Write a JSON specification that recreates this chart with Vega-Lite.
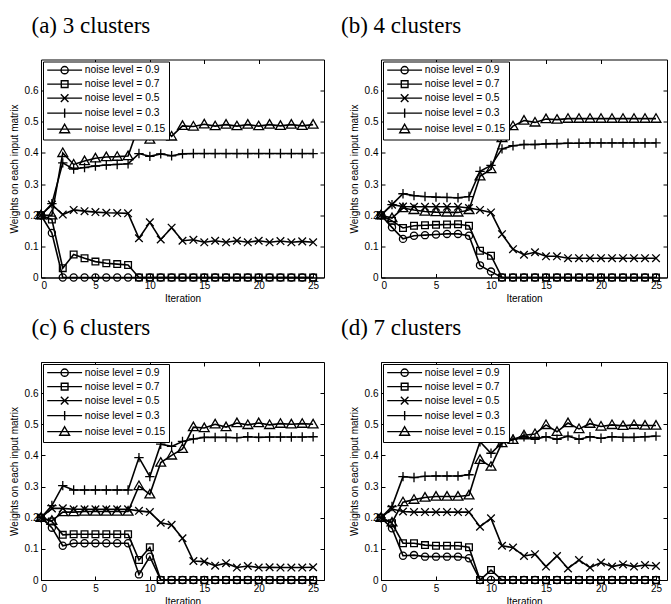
{
"$schema": "https://vega.github.io/schema/vega-lite/v6.json",
"padding": {"left": 8, "top": 13.5, "right": 0, "bottom": 0},
"datasets": {
"a": [
{"n":"0.9","i":0,"w":0.2},{"n":"0.9","i":1,"w":0.143},{"n":"0.9","i":2,"w":0},{"n":"0.9","i":3,"w":0},{"n":"0.9","i":4,"w":0},{"n":"0.9","i":5,"w":0},{"n":"0.9","i":6,"w":0},{"n":"0.9","i":7,"w":0},{"n":"0.9","i":8,"w":0},{"n":"0.9","i":9,"w":0},{"n":"0.9","i":10,"w":0},{"n":"0.9","i":11,"w":0},{"n":"0.9","i":12,"w":0},{"n":"0.9","i":13,"w":0},{"n":"0.9","i":14,"w":0},{"n":"0.9","i":15,"w":0},{"n":"0.9","i":16,"w":0},{"n":"0.9","i":17,"w":0},{"n":"0.9","i":18,"w":0},{"n":"0.9","i":19,"w":0},{"n":"0.9","i":20,"w":0},{"n":"0.9","i":21,"w":0},{"n":"0.9","i":22,"w":0},{"n":"0.9","i":23,"w":0},{"n":"0.9","i":24,"w":0},{"n":"0.9","i":25,"w":0},
{"n":"0.7","i":0,"w":0.2},{"n":"0.7","i":1,"w":0.186},{"n":"0.7","i":2,"w":0.03},{"n":"0.7","i":3,"w":0.074},{"n":"0.7","i":4,"w":0.062},{"n":"0.7","i":5,"w":0.051},{"n":"0.7","i":6,"w":0.046},{"n":"0.7","i":7,"w":0.043},{"n":"0.7","i":8,"w":0.04},{"n":"0.7","i":9,"w":0},{"n":"0.7","i":10,"w":0},{"n":"0.7","i":11,"w":0},{"n":"0.7","i":12,"w":0},{"n":"0.7","i":13,"w":0},{"n":"0.7","i":14,"w":0},{"n":"0.7","i":15,"w":0},{"n":"0.7","i":16,"w":0},{"n":"0.7","i":17,"w":0},{"n":"0.7","i":18,"w":0},{"n":"0.7","i":19,"w":0},{"n":"0.7","i":20,"w":0},{"n":"0.7","i":21,"w":0},{"n":"0.7","i":22,"w":0},{"n":"0.7","i":23,"w":0},{"n":"0.7","i":24,"w":0},{"n":"0.7","i":25,"w":0},
{"n":"0.5","i":0,"w":0.2},{"n":"0.5","i":1,"w":0.234},{"n":"0.5","i":2,"w":0.202},{"n":"0.5","i":3,"w":0.217},{"n":"0.5","i":4,"w":0.213},{"n":"0.5","i":5,"w":0.21},{"n":"0.5","i":6,"w":0.208},{"n":"0.5","i":7,"w":0.207},{"n":"0.5","i":8,"w":0.206},{"n":"0.5","i":9,"w":0.126},{"n":"0.5","i":10,"w":0.177},{"n":"0.5","i":11,"w":0.122},{"n":"0.5","i":12,"w":0.16},{"n":"0.5","i":13,"w":0.118},{"n":"0.5","i":14,"w":0.121},{"n":"0.5","i":15,"w":0.113},{"n":"0.5","i":16,"w":0.118},{"n":"0.5","i":17,"w":0.113},{"n":"0.5","i":18,"w":0.118},{"n":"0.5","i":19,"w":0.113},{"n":"0.5","i":20,"w":0.118},{"n":"0.5","i":21,"w":0.113},{"n":"0.5","i":22,"w":0.117},{"n":"0.5","i":23,"w":0.113},{"n":"0.5","i":24,"w":0.116},{"n":"0.5","i":25,"w":0.113},
{"n":"0.3","i":0,"w":0.2},{"n":"0.3","i":1,"w":0.237},{"n":"0.3","i":2,"w":0.368},{"n":"0.3","i":3,"w":0.348},{"n":"0.3","i":4,"w":0.353},{"n":"0.3","i":5,"w":0.358},{"n":"0.3","i":6,"w":0.361},{"n":"0.3","i":7,"w":0.363},{"n":"0.3","i":8,"w":0.365},{"n":"0.3","i":9,"w":0.398},{"n":"0.3","i":10,"w":0.389},{"n":"0.3","i":11,"w":0.397},{"n":"0.3","i":12,"w":0.391},{"n":"0.3","i":13,"w":0.397},{"n":"0.3","i":14,"w":0.398},{"n":"0.3","i":15,"w":0.398},{"n":"0.3","i":16,"w":0.398},{"n":"0.3","i":17,"w":0.398},{"n":"0.3","i":18,"w":0.398},{"n":"0.3","i":19,"w":0.398},{"n":"0.3","i":20,"w":0.398},{"n":"0.3","i":21,"w":0.398},{"n":"0.3","i":22,"w":0.398},{"n":"0.3","i":23,"w":0.398},{"n":"0.3","i":24,"w":0.398},{"n":"0.3","i":25,"w":0.398},
{"n":"0.15","i":0,"w":0.2},{"n":"0.15","i":1,"w":0.2},{"n":"0.15","i":2,"w":0.4},{"n":"0.15","i":3,"w":0.363},{"n":"0.15","i":4,"w":0.374},{"n":"0.15","i":5,"w":0.383},{"n":"0.15","i":6,"w":0.387},{"n":"0.15","i":7,"w":0.388},{"n":"0.15","i":8,"w":0.39},{"n":"0.15","i":9,"w":0.49},{"n":"0.15","i":10,"w":0.443},{"n":"0.15","i":11,"w":0.49},{"n":"0.15","i":12,"w":0.453},{"n":"0.15","i":13,"w":0.487},{"n":"0.15","i":14,"w":0.485},{"n":"0.15","i":15,"w":0.492},{"n":"0.15","i":16,"w":0.486},{"n":"0.15","i":17,"w":0.491},{"n":"0.15","i":18,"w":0.486},{"n":"0.15","i":19,"w":0.491},{"n":"0.15","i":20,"w":0.486},{"n":"0.15","i":21,"w":0.491},{"n":"0.15","i":22,"w":0.487},{"n":"0.15","i":23,"w":0.491},{"n":"0.15","i":24,"w":0.487},{"n":"0.15","i":25,"w":0.491}
],
"b": [
{"n":"0.9","i":0,"w":0.2},{"n":"0.9","i":1,"w":0.161},{"n":"0.9","i":2,"w":0.124},{"n":"0.9","i":3,"w":0.134},{"n":"0.9","i":4,"w":0.136},{"n":"0.9","i":5,"w":0.138},{"n":"0.9","i":6,"w":0.14},{"n":"0.9","i":7,"w":0.14},{"n":"0.9","i":8,"w":0.134},{"n":"0.9","i":9,"w":0.039},{"n":"0.9","i":10,"w":0.019},{"n":"0.9","i":11,"w":0},{"n":"0.9","i":12,"w":0},{"n":"0.9","i":13,"w":0},{"n":"0.9","i":14,"w":0},{"n":"0.9","i":15,"w":0},{"n":"0.9","i":16,"w":0},{"n":"0.9","i":17,"w":0},{"n":"0.9","i":18,"w":0},{"n":"0.9","i":19,"w":0},{"n":"0.9","i":20,"w":0},{"n":"0.9","i":21,"w":0},{"n":"0.9","i":22,"w":0},{"n":"0.9","i":23,"w":0},{"n":"0.9","i":24,"w":0},{"n":"0.9","i":25,"w":0},
{"n":"0.7","i":0,"w":0.2},{"n":"0.7","i":1,"w":0.182},{"n":"0.7","i":2,"w":0.159},{"n":"0.7","i":3,"w":0.166},{"n":"0.7","i":4,"w":0.168},{"n":"0.7","i":5,"w":0.169},{"n":"0.7","i":6,"w":0.17},{"n":"0.7","i":7,"w":0.171},{"n":"0.7","i":8,"w":0.166},{"n":"0.7","i":9,"w":0.086},{"n":"0.7","i":10,"w":0.07},{"n":"0.7","i":11,"w":0},{"n":"0.7","i":12,"w":0},{"n":"0.7","i":13,"w":0},{"n":"0.7","i":14,"w":0},{"n":"0.7","i":15,"w":0},{"n":"0.7","i":16,"w":0},{"n":"0.7","i":17,"w":0},{"n":"0.7","i":18,"w":0},{"n":"0.7","i":19,"w":0},{"n":"0.7","i":20,"w":0},{"n":"0.7","i":21,"w":0},{"n":"0.7","i":22,"w":0},{"n":"0.7","i":23,"w":0},{"n":"0.7","i":24,"w":0},{"n":"0.7","i":25,"w":0},
{"n":"0.5","i":0,"w":0.2},{"n":"0.5","i":1,"w":0.234},{"n":"0.5","i":2,"w":0.228},{"n":"0.5","i":3,"w":0.227},{"n":"0.5","i":4,"w":0.227},{"n":"0.5","i":5,"w":0.227},{"n":"0.5","i":6,"w":0.227},{"n":"0.5","i":7,"w":0.227},{"n":"0.5","i":8,"w":0.223},{"n":"0.5","i":9,"w":0.217},{"n":"0.5","i":10,"w":0.209},{"n":"0.5","i":11,"w":0.139},{"n":"0.5","i":12,"w":0.091},{"n":"0.5","i":13,"w":0.073},{"n":"0.5","i":14,"w":0.081},{"n":"0.5","i":15,"w":0.068},{"n":"0.5","i":16,"w":0.068},{"n":"0.5","i":17,"w":0.062},{"n":"0.5","i":18,"w":0.062},{"n":"0.5","i":19,"w":0.062},{"n":"0.5","i":20,"w":0.062},{"n":"0.5","i":21,"w":0.062},{"n":"0.5","i":22,"w":0.062},{"n":"0.5","i":23,"w":0.062},{"n":"0.5","i":24,"w":0.062},{"n":"0.5","i":25,"w":0.062},
{"n":"0.3","i":0,"w":0.2},{"n":"0.3","i":1,"w":0.234},{"n":"0.3","i":2,"w":0.269},{"n":"0.3","i":3,"w":0.263},{"n":"0.3","i":4,"w":0.26},{"n":"0.3","i":5,"w":0.258},{"n":"0.3","i":6,"w":0.257},{"n":"0.3","i":7,"w":0.256},{"n":"0.3","i":8,"w":0.26},{"n":"0.3","i":9,"w":0.341},{"n":"0.3","i":10,"w":0.36},{"n":"0.3","i":11,"w":0.413},{"n":"0.3","i":12,"w":0.423},{"n":"0.3","i":13,"w":0.427},{"n":"0.3","i":14,"w":0.427},{"n":"0.3","i":15,"w":0.429},{"n":"0.3","i":16,"w":0.43},{"n":"0.3","i":17,"w":0.431},{"n":"0.3","i":18,"w":0.431},{"n":"0.3","i":19,"w":0.432},{"n":"0.3","i":20,"w":0.432},{"n":"0.3","i":21,"w":0.432},{"n":"0.3","i":22,"w":0.432},{"n":"0.3","i":23,"w":0.432},{"n":"0.3","i":24,"w":0.432},{"n":"0.3","i":25,"w":0.432},
{"n":"0.15","i":0,"w":0.2},{"n":"0.15","i":1,"w":0.191},{"n":"0.15","i":2,"w":0.223},{"n":"0.15","i":3,"w":0.217},{"n":"0.15","i":4,"w":0.212},{"n":"0.15","i":5,"w":0.21},{"n":"0.15","i":6,"w":0.209},{"n":"0.15","i":7,"w":0.209},{"n":"0.15","i":8,"w":0.217},{"n":"0.15","i":9,"w":0.325},{"n":"0.15","i":10,"w":0.348},{"n":"0.15","i":11,"w":0.448},{"n":"0.15","i":12,"w":0.486},{"n":"0.15","i":13,"w":0.504},{"n":"0.15","i":14,"w":0.498},{"n":"0.15","i":15,"w":0.509},{"n":"0.15","i":16,"w":0.507},{"n":"0.15","i":17,"w":0.51},{"n":"0.15","i":18,"w":0.51},{"n":"0.15","i":19,"w":0.51},{"n":"0.15","i":20,"w":0.51},{"n":"0.15","i":21,"w":0.51},{"n":"0.15","i":22,"w":0.51},{"n":"0.15","i":23,"w":0.51},{"n":"0.15","i":24,"w":0.51},{"n":"0.15","i":25,"w":0.51}
],
"c": [
{"n":"0.9","i":0,"w":0.2},{"n":"0.9","i":1,"w":0.168},{"n":"0.9","i":2,"w":0.11},{"n":"0.9","i":3,"w":0.118},{"n":"0.9","i":4,"w":0.118},{"n":"0.9","i":5,"w":0.118},{"n":"0.9","i":6,"w":0.118},{"n":"0.9","i":7,"w":0.118},{"n":"0.9","i":8,"w":0.118},{"n":"0.9","i":9,"w":0.018},{"n":"0.9","i":10,"w":0.075},{"n":"0.9","i":11,"w":0},{"n":"0.9","i":12,"w":0},{"n":"0.9","i":13,"w":0},{"n":"0.9","i":14,"w":0},{"n":"0.9","i":15,"w":0},{"n":"0.9","i":16,"w":0},{"n":"0.9","i":17,"w":0},{"n":"0.9","i":18,"w":0},{"n":"0.9","i":19,"w":0},{"n":"0.9","i":20,"w":0},{"n":"0.9","i":21,"w":0},{"n":"0.9","i":22,"w":0},{"n":"0.9","i":23,"w":0},{"n":"0.9","i":24,"w":0},{"n":"0.9","i":25,"w":0},
{"n":"0.7","i":0,"w":0.2},{"n":"0.7","i":1,"w":0.188},{"n":"0.7","i":2,"w":0.145},{"n":"0.7","i":3,"w":0.147},{"n":"0.7","i":4,"w":0.147},{"n":"0.7","i":5,"w":0.147},{"n":"0.7","i":6,"w":0.147},{"n":"0.7","i":7,"w":0.147},{"n":"0.7","i":8,"w":0.147},{"n":"0.7","i":9,"w":0.064},{"n":"0.7","i":10,"w":0.105},{"n":"0.7","i":11,"w":0},{"n":"0.7","i":12,"w":0},{"n":"0.7","i":13,"w":0},{"n":"0.7","i":14,"w":0},{"n":"0.7","i":15,"w":0},{"n":"0.7","i":16,"w":0},{"n":"0.7","i":17,"w":0},{"n":"0.7","i":18,"w":0},{"n":"0.7","i":19,"w":0},{"n":"0.7","i":20,"w":0},{"n":"0.7","i":21,"w":0},{"n":"0.7","i":22,"w":0},{"n":"0.7","i":23,"w":0},{"n":"0.7","i":24,"w":0},{"n":"0.7","i":25,"w":0},
{"n":"0.5","i":0,"w":0.2},{"n":"0.5","i":1,"w":0.23},{"n":"0.5","i":2,"w":0.23},{"n":"0.5","i":3,"w":0.227},{"n":"0.5","i":4,"w":0.227},{"n":"0.5","i":5,"w":0.227},{"n":"0.5","i":6,"w":0.227},{"n":"0.5","i":7,"w":0.227},{"n":"0.5","i":8,"w":0.227},{"n":"0.5","i":9,"w":0.222},{"n":"0.5","i":10,"w":0.218},{"n":"0.5","i":11,"w":0.184},{"n":"0.5","i":12,"w":0.177},{"n":"0.5","i":13,"w":0.134},{"n":"0.5","i":14,"w":0.061},{"n":"0.5","i":15,"w":0.059},{"n":"0.5","i":16,"w":0.046},{"n":"0.5","i":17,"w":0.054},{"n":"0.5","i":18,"w":0.04},{"n":"0.5","i":19,"w":0.045},{"n":"0.5","i":20,"w":0.04},{"n":"0.5","i":21,"w":0.041},{"n":"0.5","i":22,"w":0.04},{"n":"0.5","i":23,"w":0.04},{"n":"0.5","i":24,"w":0.04},{"n":"0.5","i":25,"w":0.041},
{"n":"0.3","i":0,"w":0.2},{"n":"0.3","i":1,"w":0.239},{"n":"0.3","i":2,"w":0.303},{"n":"0.3","i":3,"w":0.289},{"n":"0.3","i":4,"w":0.289},{"n":"0.3","i":5,"w":0.289},{"n":"0.3","i":6,"w":0.289},{"n":"0.3","i":7,"w":0.289},{"n":"0.3","i":8,"w":0.289},{"n":"0.3","i":9,"w":0.393},{"n":"0.3","i":10,"w":0.332},{"n":"0.3","i":11,"w":0.436},{"n":"0.3","i":12,"w":0.429},{"n":"0.3","i":13,"w":0.445},{"n":"0.3","i":14,"w":0.453},{"n":"0.3","i":15,"w":0.458},{"n":"0.3","i":16,"w":0.458},{"n":"0.3","i":17,"w":0.458},{"n":"0.3","i":18,"w":0.457},{"n":"0.3","i":19,"w":0.46},{"n":"0.3","i":20,"w":0.458},{"n":"0.3","i":21,"w":0.459},{"n":"0.3","i":22,"w":0.459},{"n":"0.3","i":23,"w":0.459},{"n":"0.3","i":24,"w":0.459},{"n":"0.3","i":25,"w":0.46},
{"n":"0.15","i":0,"w":0.2},{"n":"0.15","i":1,"w":0.19},{"n":"0.15","i":2,"w":0.218},{"n":"0.15","i":3,"w":0.218},{"n":"0.15","i":4,"w":0.22},{"n":"0.15","i":5,"w":0.22},{"n":"0.15","i":6,"w":0.22},{"n":"0.15","i":7,"w":0.22},{"n":"0.15","i":8,"w":0.22},{"n":"0.15","i":9,"w":0.302},{"n":"0.15","i":10,"w":0.275},{"n":"0.15","i":11,"w":0.377},{"n":"0.15","i":12,"w":0.4},{"n":"0.15","i":13,"w":0.421},{"n":"0.15","i":14,"w":0.491},{"n":"0.15","i":15,"w":0.488},{"n":"0.15","i":16,"w":0.5},{"n":"0.15","i":17,"w":0.491},{"n":"0.15","i":18,"w":0.504},{"n":"0.15","i":19,"w":0.498},{"n":"0.15","i":20,"w":0.504},{"n":"0.15","i":21,"w":0.498},{"n":"0.15","i":22,"w":0.502},{"n":"0.15","i":23,"w":0.5},{"n":"0.15","i":24,"w":0.502},{"n":"0.15","i":25,"w":0.5}
],
"d": [
{"n":"0.9","i":0,"w":0.2},{"n":"0.9","i":1,"w":0.166},{"n":"0.9","i":2,"w":0.078},{"n":"0.9","i":3,"w":0.08},{"n":"0.9","i":4,"w":0.075},{"n":"0.9","i":5,"w":0.075},{"n":"0.9","i":6,"w":0.075},{"n":"0.9","i":7,"w":0.075},{"n":"0.9","i":8,"w":0.07},{"n":"0.9","i":9,"w":0},{"n":"0.9","i":10,"w":0},{"n":"0.9","i":11,"w":0},{"n":"0.9","i":12,"w":0},{"n":"0.9","i":13,"w":0},{"n":"0.9","i":14,"w":0},{"n":"0.9","i":15,"w":0},{"n":"0.9","i":16,"w":0},{"n":"0.9","i":17,"w":0},{"n":"0.9","i":18,"w":0},{"n":"0.9","i":19,"w":0},{"n":"0.9","i":20,"w":0},{"n":"0.9","i":21,"w":0},{"n":"0.9","i":22,"w":0},{"n":"0.9","i":23,"w":0},{"n":"0.9","i":24,"w":0},{"n":"0.9","i":25,"w":0},
{"n":"0.7","i":0,"w":0.2},{"n":"0.7","i":1,"w":0.182},{"n":"0.7","i":2,"w":0.118},{"n":"0.7","i":3,"w":0.118},{"n":"0.7","i":4,"w":0.112},{"n":"0.7","i":5,"w":0.11},{"n":"0.7","i":6,"w":0.11},{"n":"0.7","i":7,"w":0.11},{"n":"0.7","i":8,"w":0.105},{"n":"0.7","i":9,"w":0},{"n":"0.7","i":10,"w":0.032},{"n":"0.7","i":11,"w":0},{"n":"0.7","i":12,"w":0},{"n":"0.7","i":13,"w":0},{"n":"0.7","i":14,"w":0},{"n":"0.7","i":15,"w":0},{"n":"0.7","i":16,"w":0},{"n":"0.7","i":17,"w":0},{"n":"0.7","i":18,"w":0},{"n":"0.7","i":19,"w":0},{"n":"0.7","i":20,"w":0},{"n":"0.7","i":21,"w":0},{"n":"0.7","i":22,"w":0},{"n":"0.7","i":23,"w":0},{"n":"0.7","i":24,"w":0},{"n":"0.7","i":25,"w":0},
{"n":"0.5","i":0,"w":0.2},{"n":"0.5","i":1,"w":0.228},{"n":"0.5","i":2,"w":0.22},{"n":"0.5","i":3,"w":0.218},{"n":"0.5","i":4,"w":0.218},{"n":"0.5","i":5,"w":0.218},{"n":"0.5","i":6,"w":0.218},{"n":"0.5","i":7,"w":0.218},{"n":"0.5","i":8,"w":0.218},{"n":"0.5","i":9,"w":0.171},{"n":"0.5","i":10,"w":0.198},{"n":"0.5","i":11,"w":0.11},{"n":"0.5","i":12,"w":0.104},{"n":"0.5","i":13,"w":0.077},{"n":"0.5","i":14,"w":0.083},{"n":"0.5","i":15,"w":0.043},{"n":"0.5","i":16,"w":0.077},{"n":"0.5","i":17,"w":0.037},{"n":"0.5","i":18,"w":0.064},{"n":"0.5","i":19,"w":0.04},{"n":"0.5","i":20,"w":0.056},{"n":"0.5","i":21,"w":0.043},{"n":"0.5","i":22,"w":0.05},{"n":"0.5","i":23,"w":0.043},{"n":"0.5","i":24,"w":0.048},{"n":"0.5","i":25,"w":0.045},
{"n":"0.3","i":0,"w":0.2},{"n":"0.3","i":1,"w":0.236},{"n":"0.3","i":2,"w":0.332},{"n":"0.3","i":3,"w":0.329},{"n":"0.3","i":4,"w":0.333},{"n":"0.3","i":5,"w":0.334},{"n":"0.3","i":6,"w":0.334},{"n":"0.3","i":7,"w":0.334},{"n":"0.3","i":8,"w":0.338},{"n":"0.3","i":9,"w":0.444},{"n":"0.3","i":10,"w":0.407},{"n":"0.3","i":11,"w":0.441},{"n":"0.3","i":12,"w":0.452},{"n":"0.3","i":13,"w":0.46},{"n":"0.3","i":14,"w":0.452},{"n":"0.3","i":15,"w":0.46},{"n":"0.3","i":16,"w":0.452},{"n":"0.3","i":17,"w":0.462},{"n":"0.3","i":18,"w":0.452},{"n":"0.3","i":19,"w":0.46},{"n":"0.3","i":20,"w":0.455},{"n":"0.3","i":21,"w":0.46},{"n":"0.3","i":22,"w":0.458},{"n":"0.3","i":23,"w":0.458},{"n":"0.3","i":24,"w":0.46},{"n":"0.3","i":25,"w":0.462},
{"n":"0.15","i":0,"w":0.2},{"n":"0.15","i":1,"w":0.185},{"n":"0.15","i":2,"w":0.25},{"n":"0.15","i":3,"w":0.258},{"n":"0.15","i":4,"w":0.265},{"n":"0.15","i":5,"w":0.268},{"n":"0.15","i":6,"w":0.268},{"n":"0.15","i":7,"w":0.268},{"n":"0.15","i":8,"w":0.272},{"n":"0.15","i":9,"w":0.386},{"n":"0.15","i":10,"w":0.364},{"n":"0.15","i":11,"w":0.44},{"n":"0.15","i":12,"w":0.45},{"n":"0.15","i":13,"w":0.465},{"n":"0.15","i":14,"w":0.469},{"n":"0.15","i":15,"w":0.498},{"n":"0.15","i":16,"w":0.476},{"n":"0.15","i":17,"w":0.504},{"n":"0.15","i":18,"w":0.485},{"n":"0.15","i":19,"w":0.502},{"n":"0.15","i":20,"w":0.493},{"n":"0.15","i":21,"w":0.498},{"n":"0.15","i":22,"w":0.495},{"n":"0.15","i":23,"w":0.498},{"n":"0.15","i":24,"w":0.496},{"n":"0.15","i":25,"w":0.496}
]
},
"spacing": 11.5,
"resolve": {"scale": {"shape": "independent"}, "legend": {"shape": "independent"}},
"vconcat": [
{"hconcat": [
{"title": {"text": "(a) 3 clusters", "dx": -9.5}, "width": 283, "height": 218, "data": {"name": "a"},
"layer": [
{"mark": {"type": "line", "color": "black", "strokeWidth": 1.6},
"encoding": {"x": {"field": "i", "type": "quantitative", "scale": {"domain": [0, 25]}, "axis": {"values": [0, 5, 10, 15, 20, 25], "title": "Iteration"}},
"y": {"field": "w", "type": "quantitative", "scale": {"domain": [0, 0.7]}, "axis": {"values": [0, 0.1, 0.2, 0.3, 0.4, 0.5, 0.6], "format": "~g", "title": "Weights on each input matrix"}},
"detail": {"field": "n", "type": "nominal"}}},
{"mark": {"type": "point", "filled": false, "stroke": "black", "strokeWidth": 1.3, "size": 20, "opacity": 1},
"encoding": {"x": {"field": "i", "type": "quantitative", "axis": {"orient": "top", "values": [5, 10, 15, 20], "labels": false, "title": null, "domain": false}},
"y": {"field": "w", "type": "quantitative", "axis": {"orient": "right", "values": [0.1, 0.2, 0.3, 0.4, 0.5, 0.6], "labels": false, "title": null, "domain": false}},
"shape": {"field": "n", "type": "nominal", "scale": {"domain": ["0.9", "0.7", "0.5", "0.3", "0.15"], "range": ["M1.6,0A1.6,1.6,0,1,1,-1.6,0A1.6,1.6,0,1,1,1.6,0", "M-1.5,-1.5H1.5V1.5H-1.5Z", "M-1.7,-1.7L1.7,1.7M-1.7,1.7L1.7,-1.7", "M-2.1,0H2.1M0,-2.1V2.1", "M0,-2.2L2.2,1.6H-2.2Z"]}, "legend": null}}},
{"transform": [{"filter": "datum.i < 0"}],
"mark": {"type": "point", "filled": false, "stroke": "black", "strokeWidth": 1.4, "size": 20, "opacity": 1},
"encoding": {"shape": {"field": "n", "type": "nominal", "scale": {"domain": ["0.9", "0.7", "0.5", "0.3", "0.15"], "range": ["M-7.8,0H7.8M1.6,0A1.6,1.6,0,1,1,-1.6,0A1.6,1.6,0,1,1,1.6,0", "M-7.8,0H7.8M-1.5,-1.5H1.5V1.5H-1.5Z", "M-7.8,0H7.8M-1.7,-1.7L1.7,1.7M-1.7,1.7L1.7,-1.7", "M-7.8,0H7.8M0,-2.1V2.1", "M-7.8,0H7.8M0,-2.2L2.2,1.6H-2.2Z"]}, "legend": {"labelExpr": "'noise level = ' + datum.label"}}}}
],
"resolve": {"axis": {"x": "independent", "y": "independent"}, "scale": {"shape": "independent"}}},
{"title": {"text": "(b) 4 clusters", "dx": -40}, "width": 286, "height": 218, "data": {"name": "b"},
"layer": [
{"mark": {"type": "line", "color": "black", "strokeWidth": 1.6},
"encoding": {"x": {"field": "i", "type": "quantitative", "scale": {"domain": [0, 25]}, "axis": {"values": [0, 5, 10, 15, 20, 25], "title": "Iteration"}},
"y": {"field": "w", "type": "quantitative", "scale": {"domain": [0, 0.7]}, "axis": {"values": [0, 0.1, 0.2, 0.3, 0.4, 0.5, 0.6], "format": "~g", "title": "Weights on each input matrix"}},
"detail": {"field": "n", "type": "nominal"}}},
{"mark": {"type": "point", "filled": false, "stroke": "black", "strokeWidth": 1.3, "size": 20, "opacity": 1},
"encoding": {"x": {"field": "i", "type": "quantitative", "axis": {"orient": "top", "values": [5, 10, 15, 20], "labels": false, "title": null, "domain": false}},
"y": {"field": "w", "type": "quantitative", "axis": {"orient": "right", "values": [0.1, 0.2, 0.3, 0.4, 0.5, 0.6], "labels": false, "title": null, "domain": false}},
"shape": {"field": "n", "type": "nominal", "scale": {"domain": ["0.9", "0.7", "0.5", "0.3", "0.15"], "range": ["M1.6,0A1.6,1.6,0,1,1,-1.6,0A1.6,1.6,0,1,1,1.6,0", "M-1.5,-1.5H1.5V1.5H-1.5Z", "M-1.7,-1.7L1.7,1.7M-1.7,1.7L1.7,-1.7", "M-2.1,0H2.1M0,-2.1V2.1", "M0,-2.2L2.2,1.6H-2.2Z"]}, "legend": null}}},
{"transform": [{"filter": "datum.i < 0"}],
"mark": {"type": "point", "filled": false, "stroke": "black", "strokeWidth": 1.4, "size": 20, "opacity": 1},
"encoding": {"shape": {"field": "n", "type": "nominal", "scale": {"domain": ["0.9", "0.7", "0.5", "0.3", "0.15"], "range": ["M-7.8,0H7.8M1.6,0A1.6,1.6,0,1,1,-1.6,0A1.6,1.6,0,1,1,1.6,0", "M-7.8,0H7.8M-1.5,-1.5H1.5V1.5H-1.5Z", "M-7.8,0H7.8M-1.7,-1.7L1.7,1.7M-1.7,1.7L1.7,-1.7", "M-7.8,0H7.8M0,-2.1V2.1", "M-7.8,0H7.8M0,-2.2L2.2,1.6H-2.2Z"]}, "legend": {"labelExpr": "'noise level = ' + datum.label"}}}}
],
"resolve": {"axis": {"x": "independent", "y": "independent"}, "scale": {"shape": "independent"}}}
], "spacing": 15, "resolve": {"scale": {"shape": "independent"}, "legend": {"shape": "independent"}}},
{"hconcat": [
{"title": {"text": "(c) 6 clusters", "dx": -9.5}, "width": 283, "height": 218, "data": {"name": "c"},
"layer": [
{"mark": {"type": "line", "color": "black", "strokeWidth": 1.6},
"encoding": {"x": {"field": "i", "type": "quantitative", "scale": {"domain": [0, 25]}, "axis": {"values": [0, 5, 10, 15, 20, 25], "title": "Iteration"}},
"y": {"field": "w", "type": "quantitative", "scale": {"domain": [0, 0.7]}, "axis": {"values": [0, 0.1, 0.2, 0.3, 0.4, 0.5, 0.6], "format": "~g", "title": "Weights on each input matrix"}},
"detail": {"field": "n", "type": "nominal"}}},
{"mark": {"type": "point", "filled": false, "stroke": "black", "strokeWidth": 1.3, "size": 20, "opacity": 1},
"encoding": {"x": {"field": "i", "type": "quantitative", "axis": {"orient": "top", "values": [5, 10, 15, 20], "labels": false, "title": null, "domain": false}},
"y": {"field": "w", "type": "quantitative", "axis": {"orient": "right", "values": [0.1, 0.2, 0.3, 0.4, 0.5, 0.6], "labels": false, "title": null, "domain": false}},
"shape": {"field": "n", "type": "nominal", "scale": {"domain": ["0.9", "0.7", "0.5", "0.3", "0.15"], "range": ["M1.6,0A1.6,1.6,0,1,1,-1.6,0A1.6,1.6,0,1,1,1.6,0", "M-1.5,-1.5H1.5V1.5H-1.5Z", "M-1.7,-1.7L1.7,1.7M-1.7,1.7L1.7,-1.7", "M-2.1,0H2.1M0,-2.1V2.1", "M0,-2.2L2.2,1.6H-2.2Z"]}, "legend": null}}},
{"transform": [{"filter": "datum.i < 0"}],
"mark": {"type": "point", "filled": false, "stroke": "black", "strokeWidth": 1.4, "size": 20, "opacity": 1},
"encoding": {"shape": {"field": "n", "type": "nominal", "scale": {"domain": ["0.9", "0.7", "0.5", "0.3", "0.15"], "range": ["M-7.8,0H7.8M1.6,0A1.6,1.6,0,1,1,-1.6,0A1.6,1.6,0,1,1,1.6,0", "M-7.8,0H7.8M-1.5,-1.5H1.5V1.5H-1.5Z", "M-7.8,0H7.8M-1.7,-1.7L1.7,1.7M-1.7,1.7L1.7,-1.7", "M-7.8,0H7.8M0,-2.1V2.1", "M-7.8,0H7.8M0,-2.2L2.2,1.6H-2.2Z"]}, "legend": {"labelExpr": "'noise level = ' + datum.label"}}}}
],
"resolve": {"axis": {"x": "independent", "y": "independent"}, "scale": {"shape": "independent"}}},
{"title": {"text": "(d) 7 clusters", "dx": -40}, "width": 286, "height": 218, "data": {"name": "d"},
"layer": [
{"mark": {"type": "line", "color": "black", "strokeWidth": 1.6},
"encoding": {"x": {"field": "i", "type": "quantitative", "scale": {"domain": [0, 25]}, "axis": {"values": [0, 5, 10, 15, 20, 25], "title": "Iteration"}},
"y": {"field": "w", "type": "quantitative", "scale": {"domain": [0, 0.7]}, "axis": {"values": [0, 0.1, 0.2, 0.3, 0.4, 0.5, 0.6], "format": "~g", "title": "Weights on each input matrix"}},
"detail": {"field": "n", "type": "nominal"}}},
{"mark": {"type": "point", "filled": false, "stroke": "black", "strokeWidth": 1.3, "size": 20, "opacity": 1},
"encoding": {"x": {"field": "i", "type": "quantitative", "axis": {"orient": "top", "values": [5, 10, 15, 20], "labels": false, "title": null, "domain": false}},
"y": {"field": "w", "type": "quantitative", "axis": {"orient": "right", "values": [0.1, 0.2, 0.3, 0.4, 0.5, 0.6], "labels": false, "title": null, "domain": false}},
"shape": {"field": "n", "type": "nominal", "scale": {"domain": ["0.9", "0.7", "0.5", "0.3", "0.15"], "range": ["M1.6,0A1.6,1.6,0,1,1,-1.6,0A1.6,1.6,0,1,1,1.6,0", "M-1.5,-1.5H1.5V1.5H-1.5Z", "M-1.7,-1.7L1.7,1.7M-1.7,1.7L1.7,-1.7", "M-2.1,0H2.1M0,-2.1V2.1", "M0,-2.2L2.2,1.6H-2.2Z"]}, "legend": null}}},
{"transform": [{"filter": "datum.i < 0"}],
"mark": {"type": "point", "filled": false, "stroke": "black", "strokeWidth": 1.4, "size": 20, "opacity": 1},
"encoding": {"shape": {"field": "n", "type": "nominal", "scale": {"domain": ["0.9", "0.7", "0.5", "0.3", "0.15"], "range": ["M-7.8,0H7.8M1.6,0A1.6,1.6,0,1,1,-1.6,0A1.6,1.6,0,1,1,1.6,0", "M-7.8,0H7.8M-1.5,-1.5H1.5V1.5H-1.5Z", "M-7.8,0H7.8M-1.7,-1.7L1.7,1.7M-1.7,1.7L1.7,-1.7", "M-7.8,0H7.8M0,-2.1V2.1", "M-7.8,0H7.8M0,-2.2L2.2,1.6H-2.2Z"]}, "legend": {"labelExpr": "'noise level = ' + datum.label"}}}}
],
"resolve": {"axis": {"x": "independent", "y": "independent"}, "scale": {"shape": "independent"}}}
], "spacing": 15, "resolve": {"scale": {"shape": "independent"}, "legend": {"shape": "independent"}}}
],
"config": {
"background": "white",
"font": "Liberation Sans",
"view": {"stroke": "black", "strokeWidth": 1},
"axis": {"grid": false, "domainColor": "black", "domainWidth": 1, "tickColor": "black", "tickWidth": 1, "tickSize": -4, "labelPadding": 7, "labelColor": "black", "labelFontSize": 10, "labelFont": "Liberation Sans", "titleFont": "Liberation Sans", "titleFontSize": 10, "titleFontWeight": "normal", "titleColor": "black", "titlePadding": 5, "labelOverlap": false},
"axisY": {"titlePadding": 5},
"axisX": {"titlePadding": 3},
"title": {"font": "Liberation Serif", "fontSize": 23, "fontWeight": "normal", "color": "black", "anchor": "start", "frame": "group", "baseline": "alphabetic", "offset": 21.5},
"legend": {"orient": "top-left", "offset": 2, "title": null, "fillColor": "white", "strokeColor": "black", "strokeWidth": 1, "padding": 3.5, "symbolSize": 20, "symbolStrokeWidth": 1.4, "symbolStrokeColor": "black", "symbolFillColor": "transparent", "symbolOffset": 13, "labelOffset": 15, "labelFontSize": 10.3, "labelFont": "Liberation Sans", "labelColor": "black", "rowPadding": 0}
}
}
